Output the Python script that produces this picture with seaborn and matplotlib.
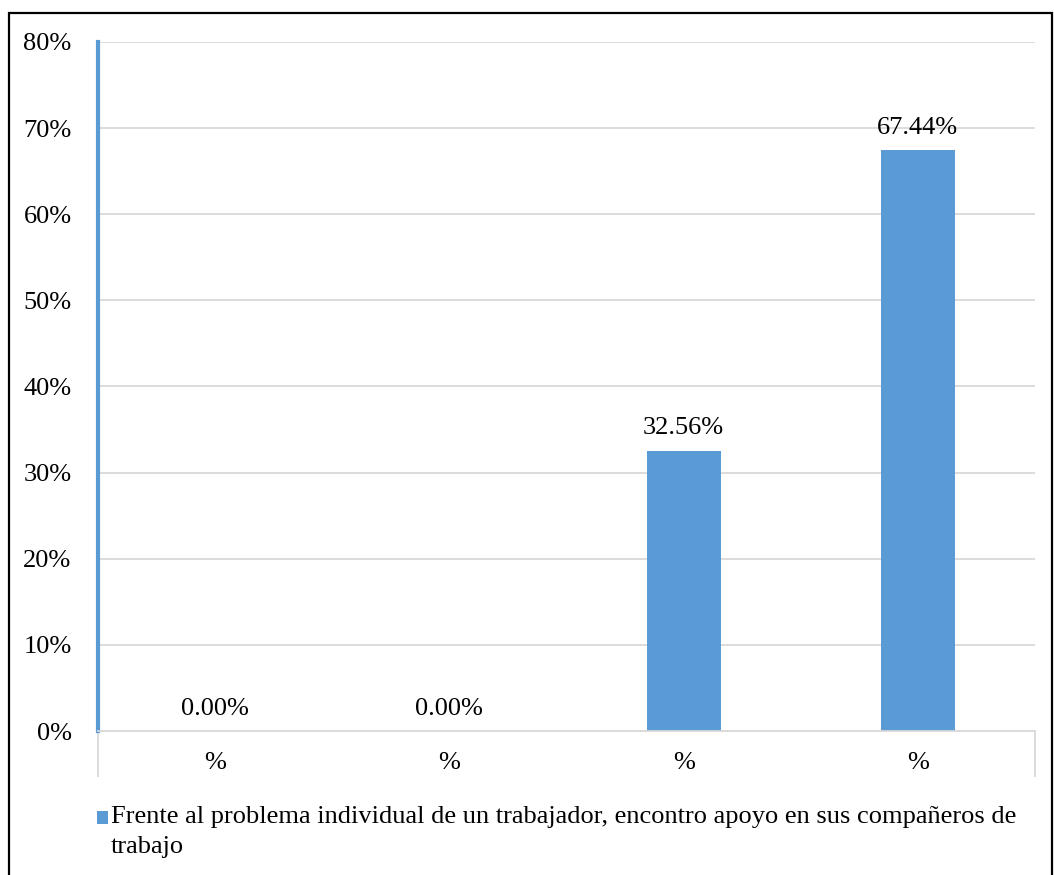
import matplotlib
matplotlib.use("Agg")
import matplotlib.pyplot as plt
from matplotlib.patches import Rectangle, Patch
from matplotlib.legend_handler import HandlerPatch
from matplotlib.ticker import PercentFormatter, FixedLocator
import seaborn as sns
import pandas as pd

categories = ["%", "% ", "%  ", "%   "]
tick_labels = ["%", "%", "%", "%"]
values = [0.00, 0.00, 32.56, 67.44]
series_name = ("Frente al problema individual de un trabajador, encontro apoyo en sus compañeros de\n"
               "trabajo")

sns.set_theme(style="white")
plt.rcParams["font.family"] = ["Liberation Serif", "DejaVu Serif"]
plt.rcParams["text.color"] = "black"
FS = 19
BLUE = "#5B9BD5"
GRID = "#D9D9D9"

df = pd.DataFrame({"cat": categories, "val": values})

fig = plt.figure(figsize=(10.54, 8.75), dpi=100)
ax = fig.add_axes([98 / 1054, 1 - 731 / 875, (1035 - 98) / 1054, (731 - 42) / 875])

sns.barplot(data=df, x="cat", y="val", color=BLUE, width=0.316, ax=ax,
            saturation=1, edgecolor="none")

ax.set_ylim(0, 80)
ax.set_xlim(-0.5, len(categories) - 0.5)
ax.set_yticks(range(0, 81, 10))
ax.yaxis.set_major_formatter(PercentFormatter(decimals=0))
ax.yaxis.grid(True, color=GRID, linewidth=1.3)
ax.set_axisbelow(True)
ax.set_xlabel("")
ax.set_ylabel("")

# category labels centred, with divider ticks only at both ends of the axis
ax.set_xticks(range(len(categories)))
ax.set_xticklabels(tick_labels)
ax.xaxis.set_minor_locator(FixedLocator([-0.5, len(categories) - 0.5]))
ax.tick_params(axis="x", which="major", bottom=True, length=0, pad=15, labelsize=FS,
               colors="black")
ax.tick_params(axis="x", which="minor", bottom=True, length=33, width=1.3, color=GRID,
               direction="out")
ax.tick_params(axis="y", length=0, pad=19, labelsize=FS, colors="black")

for s in ["top", "right"]:
    ax.spines[s].set_visible(False)
ax.spines["bottom"].set_color(GRID)
ax.spines["bottom"].set_linewidth(1.3)
ax.spines["left"].set_color(BLUE)
ax.spines["left"].set_linewidth(3)

for cont in ax.containers:
    ax.bar_label(cont, labels=[f"{v:.2f}%" for v in values], padding=8, fontsize=FS,
                 color="black")


def raised_square(legend, orig_handle, xdescent, ydescent, width, height, fontsize):
    # lift the colour square up to the first line of a two-line label
    return Rectangle((-xdescent, -ydescent + 9.6), width, height)


handle = Patch(facecolor=BLUE, edgecolor="none")
leg = fig.legend([handle], [series_name], loc="upper left",
                 bbox_to_anchor=(97 / 1054, 1 - 806 / 875),
                 frameon=False, fontsize=FS, handlelength=0.42, handleheight=0.42,
                 handletextpad=0.1, borderpad=0, borderaxespad=0,
                 handler_map={Patch: HandlerPatch(patch_func=raised_square)})
for t in leg.get_texts():
    t.set_linespacing(1.45)
    t.set_color("black")

fig.patches.append(Rectangle((9 / 1054, -0.01), (1052 - 9) / 1054, 1 - 13 / 875 + 0.01,
                             transform=fig.transFigure, fill=False, edgecolor="black",
                             linewidth=1.6))

fig.savefig("out.png", dpi=100)
